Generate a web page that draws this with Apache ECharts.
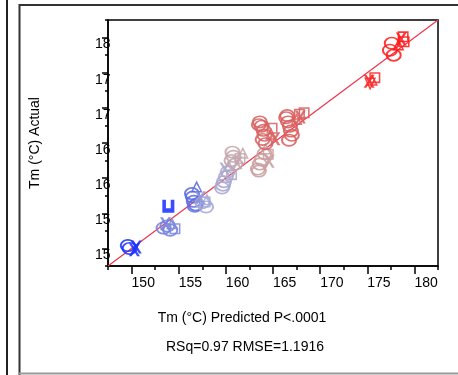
<!DOCTYPE html>
<html>
<head>
<meta charset="utf-8">
<script src="https://cdn.jsdelivr.net/npm/echarts@6/dist/echarts.min.js"></script>
<style>
html,body{margin:0;padding:0;background:#fff;}
#chart{width:458px;height:375px;}
</style>
</head>
<body>
<div id="chart"></div>
<script>
// ---- data ----
var xTickLabels = [150, 155, 160, 165, 170, 175, 180];
var yTickLabels = [150, 155, 160, 165, 170, 175, 180];
var minorTicks = [147.5, 152.5, 157.5, 162.5, 167.5, 172.5, 177.5, 182.5];
var fitLine = [[147.5, 147.5], [182.5, 182.5]];

var predicted = [
  149.8, 150.5, 149.6, 150.3,
  153.9, 153.4, 153.8, 154.1, 154.3, 154.6, 153.6,
  156.5, 156.6, 156.8, 156.4, 156.7, 156.9, 157.5, 157.9, 157.8, 158.0, 157.3,
  159.6, 159.8, 160.0, 160.2, 159.7, 160.3, 160.6, 159.9,
  160.6, 160.8, 161.0, 160.7, 161.5, 161.8, 161.2,
  163.4, 163.6, 163.8, 164.1, 163.5, 164.2, 164.5, 164.6,
  163.6, 163.8, 164.0, 164.1, 163.9, 164.2, 163.5, 164.8, 164.9, 165.2,
  166.4, 166.6, 166.8, 166.9, 167.0, 166.7, 166.5, 167.8, 168.3, 167.5, 167.9,
  175.3, 175.8, 175.5, 175.2,
  177.6, 177.4, 177.8, 178.8, 178.9, 178.3, 178.6
];
var actual = [
  150.0, 150.2, 150.4, 149.8,
  156.0, 152.9, 153.2, 152.6, 153.6, 152.8, 153.5,
  157.3, 156.7, 156.2, 157.8, 156.0, 158.8, 156.5, 155.9, 156.6, 157.0, 157.2,
  158.6, 159.5, 160.2, 160.9, 159.0, 161.8, 160.5, 161.3,
  162.5, 163.1, 162.0, 163.7, 162.8, 163.6, 162.2,
  161.3, 162.0, 162.6, 163.5, 161.0, 164.2, 163.4, 162.4,
  168.0, 167.4, 166.8, 166.1, 165.5, 164.9, 167.6, 166.3, 167.1, 165.6,
  168.6, 168.0, 167.4, 166.7, 166.1, 165.4, 168.9, 169.1, 169.3, 168.4, 168.7,
  173.4, 174.3, 174.0, 173.8,
  179.2, 178.2, 177.5, 180.1, 179.4, 179.0, 179.8
];
var colorVal = [
  150, 150, 150, 150,
  150, 155.5, 155.5, 155.5, 156, 156, 155.5,
  154, 154, 154, 154, 154.5, 154, 158, 158, 158, 158, 157,
  158.5, 158.5, 158.5, 159, 158.5, 159, 159, 159,
  161.5, 161.5, 161.5, 161.5, 161.5, 161.5, 161.5,
  162.5, 162.5, 162.5, 162.5, 162.5, 162.5, 162.5, 162.5,
  166, 166, 166, 166, 166, 166, 166, 166, 166, 166,
  166.5, 166.5, 166.5, 166.5, 166.5, 166.5, 166.5, 166.5, 166.5, 166.5, 166.5,
  175, 175, 175, 175,
  178, 178, 178, 178, 178, 178, 178
];
var markerType = [
  'ring', 'x', 'ring', 'x',
  'u', 'ring', 'ring', 'ring', 'tri', 'sqr', 'x',
  'ring', 'ring', 'ring', 'ring', 'ring', 'tri', 'ring', 'ring', 'sqr', 'tri', 'x',
  'ring', 'ring', 'ring', 'ring', 'ring', 'tri', 'sqr', 'x',
  'ring', 'ring', 'ring', 'ring', 'sqr', 'tri', 'x',
  'ring', 'ring', 'ring', 'ring', 'ring', 'tri', 'sqr', 'x',
  'ring', 'ring', 'ring', 'ring', 'ring', 'ring', 'ring', 'tri', 'sqr', 'x',
  'ring', 'ring', 'ring', 'ring', 'ring', 'ring', 'ring', 'sqr', 'sqr', 'tri', 'x',
  'tridown', 'sqr', 'tri', 'x',
  'ring', 'ring', 'ring', 'sqr', 'sqr', 'tri', 'x'
];

// ---- marker shapes (styles, not data) ----
var SYM = {
  ring: 'path://M10,0A10,10 0 1,1 10,20A10,10 0 1,1 10,0Z M10,2.5A7.5,7.5 0 1,0 10,17.5A7.5,7.5 0 1,0 10,2.5Z',
  tri: 'path://M10,0L20,20L0,20Z M10,5.5L3.8,17.5L16.2,17.5Z',
  tridown: 'path://M0,0L20,0L10,20Z M3.8,2.5L10,14.5L16.2,2.5Z',
  sqr: 'path://M0,0L20,0L20,20L0,20Z M2.8,2.8L2.8,17.2L17.2,17.2L17.2,2.8Z',
  x: 'path://M0,0L5,0L10,7L15,0L20,0L12.5,10L20,20L15,20L10,13L5,20L0,20L7.5,10Z',
  u: 'path://M0,0L6,0L6,13L14,13L14,0L20,0L20,20L0,20Z'
};
var SIZE = {ring: [16, 13], tri: [12, 12], tridown: [12, 13], sqr: [11, 11], x: [11, 13], u: [12, 13]};

var scatterData = predicted.map(function (p, i) {
  var t = markerType[i];
  return {value: [p, actual[i], colorVal[i]], symbol: SYM[t], symbolSize: SIZE[t]};
});

var font = '"Liberation Sans", Arial, sans-serif';
var chart = echarts.init(document.getElementById('chart'), null, {renderer: 'canvas'});

chart.setOption({
  animation: false,
  backgroundColor: '#fff',
  grid: {left: 108, top: 20, right: 20, bottom: 109, show: true, borderColor: '#000', borderWidth: 1.5},
  visualMap: {
    show: false, type: 'continuous', dimension: 2, seriesIndex: 0,
    min: 150, max: 178,
    inRange: {color: ['#1f33ff', '#5a6ae0', '#a4a9d8', '#c8a6a8', '#d86262', '#e04848', '#f53030', '#ff1c1c']}
  },
  xAxis: [{
    type: 'value', min: 147.5, max: 182.5, interval: 2.5,
    axisLine: {show: true, onZero: false, lineStyle: {color: '#000', width: 1.5}},
    axisTick: {show: true, customValues: xTickLabels, length: 8, lineStyle: {color: '#000', width: 1.5}},
    axisLabel: {show: true, customValues: xTickLabels, align: 'left', margin: 10, fontSize: 14, color: '#000', fontFamily: font},
    splitLine: {show: false}
  }, {
    type: 'value', min: 147.5, max: 182.5, interval: 2.5, position: 'bottom',
    axisLine: {show: false},
    axisTick: {show: true, customValues: minorTicks, length: 4, lineStyle: {color: '#000', width: 1.5}},
    axisLabel: {show: false},
    splitLine: {show: false}
  }],
  yAxis: [{
    type: 'value', min: 147.5, max: 182.5, interval: 2.5,
    axisLine: {show: true, onZero: false, lineStyle: {color: '#000', width: 1.5}},
    axisTick: {show: true, customValues: yTickLabels, length: 6, lineStyle: {color: '#000', width: 1.5}},
    axisLabel: {
      show: true, customValues: yTickLabels, align: 'left', verticalAlign: 'top', margin: 13,
      fontSize: 14, color: '#000', fontFamily: font,
      formatter: function (v) { return String(v).slice(0, 2); }
    },
    splitLine: {show: false}
  }, {
    type: 'value', min: 147.5, max: 182.5, interval: 2.5, position: 'left',
    axisLine: {show: false},
    axisTick: {show: true, customValues: minorTicks, length: 3, lineStyle: {color: '#000', width: 1.5}},
    axisLabel: {show: false},
    splitLine: {show: false}
  }],
  series: [{
    type: 'scatter', xAxisIndex: 0, yAxisIndex: 0,
    data: scatterData,
    itemStyle: {opacity: 0.88},
    z: 3
  }, {
    type: 'line', xAxisIndex: 0, yAxisIndex: 0,
    data: fitLine, symbol: 'none',
    lineStyle: {color: '#f0344a', width: 1.2},
    z: 2
  }],
  graphic: [
    {type: 'line', shape: {x1: 7, y1: 0, x2: 7, y2: 375}, style: {stroke: '#222', lineWidth: 2}},
    {type: 'polyline', shape: {points: [[19.5, 375], [19.5, 5], [460, 5]]}, style: {stroke: '#333', lineWidth: 2, fill: null}},
    {type: 'line', shape: {x1: 19, y1: 373.5, x2: 460, y2: 373.5}, style: {stroke: '#999', lineWidth: 2}},
    {type: 'text', x: 35, y: 143, rotation: Math.PI / 2,
     style: {text: 'Tm (°C) Actual', fontSize: 14, fontFamily: font, fill: '#000', align: 'center', verticalAlign: 'middle'}},
    {type: 'text', x: 242, y: 318,
     style: {text: 'Tm (°C) Predicted P<.0001', fontSize: 14, fontFamily: font, fill: '#000', align: 'center', verticalAlign: 'middle'}},
    {type: 'text', x: 245, y: 347,
     style: {text: 'RSq=0.97 RMSE=1.1916', fontSize: 14, fontFamily: font, fill: '#000', align: 'center', verticalAlign: 'middle'}}
  ]
});
</script>
</body>
</html>
